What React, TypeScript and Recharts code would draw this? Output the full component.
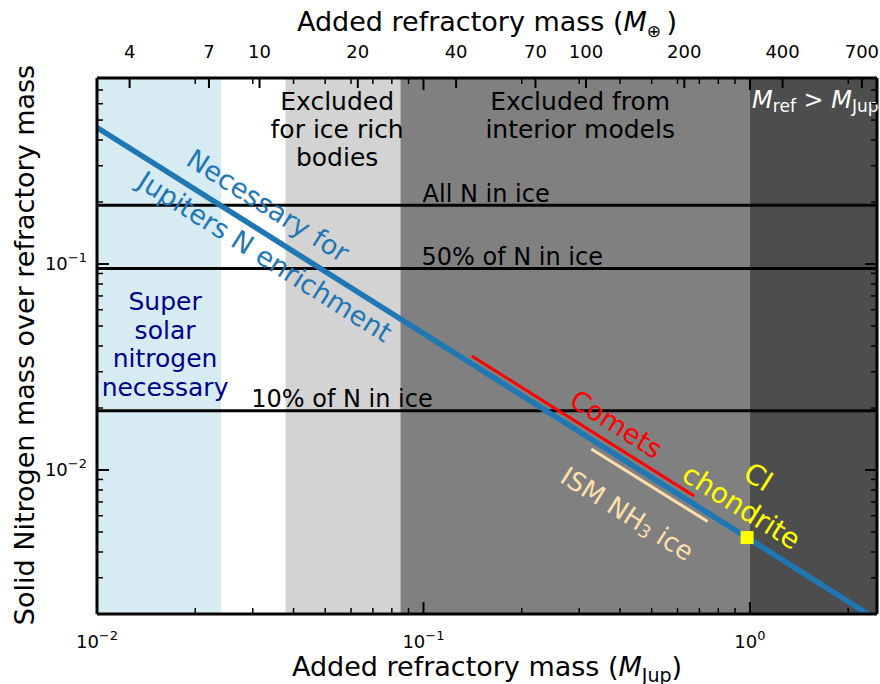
import React from 'react';
import {
  ComposedChart,
  XAxis,
  YAxis,
  Line,
  Scatter,
  ReferenceArea,
  ReferenceLine,
  ReferenceDot,
} from 'recharts';

const FONT = '"DejaVu Sans", sans-serif';
const EARTH_PER_JUP = 317.8;

// axes
const xDomain = [0.01, 2.45];
const yDomain = [0.002, 0.8];
const xMajor = [0.01, 0.1, 1];
const xMinor = [0.02, 0.03, 0.04, 0.05, 0.06, 0.07, 0.08, 0.09, 0.2, 0.3, 0.4, 0.5, 0.6, 0.7, 0.8, 0.9, 2];
const yMajor = [0.01, 0.1];
const yMinor = [
  0.002, 0.003, 0.004, 0.005, 0.006, 0.007, 0.008, 0.009,
  0.02, 0.03, 0.04, 0.05, 0.06, 0.07, 0.08, 0.09,
  0.2, 0.3, 0.4, 0.5, 0.6, 0.7, 0.8,
];
const earthTicks = [4, 7, 10, 20, 40, 70, 100, 200, 400, 700];

// shaded regions (M_Jup edges)
const regionEdges = [0.01, 0.024, 0.0378, 0.085, 1.0, 2.45];
const regionColors = ['#d6ebf2', '#ffffff', '#d3d3d3', '#808080', '#4d4d4d'];

// horizontal N-in-ice levels
const iceLevels = [0.193, 0.095, 0.0194];
const iceLabels = ['All N in ice', '50% of N in ice', '10% of N in ice'];

// series
const jupiterLine = [
  { x: 0.01, y: 0.46 },
  { x: 2.3, y: 0.002 },
];
const comets = [
  { x: 0.1406, y: 0.0358 },
  { x: 0.675, y: 0.00748 },
];
const ismIce = [
  { x: 0.3266, y: 0.01265 },
  { x: 0.742, y: 0.00562 },
];
const ciChondrite = [{ x: 0.98, y: 0.0047 }];

const ANGLE = 32.3;

const sup = (exp: number) => (exp < 0 ? '\u2212' + Math.abs(exp) : String(exp));

const BottomTick = (props: any) => {
  const { x, y, payload } = props;
  const v = payload.value;
  const major = xMajor.includes(v);
  return (
    <g>
      <line x1={x} x2={x} y1={y} y2={y - (major ? 12 : 6)} stroke="#000" strokeWidth={major ? 2 : 1.5} />
      {major && (
        <text x={x} y={y + 34} textAnchor="middle" fontSize={18} fontFamily={FONT} fill="#000">
          10
          <tspan dy={-8} fontSize={13}>{sup(Math.round(Math.log10(v)))}</tspan>
        </text>
      )}
    </g>
  );
};

const TopTick = (props: any) => {
  const { x, y, payload } = props;
  const v = payload.value;
  const earth = Math.round(v * EARTH_PER_JUP);
  const isEarth = earthTicks.includes(earth) && Math.abs(v * EARTH_PER_JUP - earth) < 1e-6;
  const major = xMajor.includes(v);
  const len = isEarth ? 10 : major ? 12 : 6;
  return (
    <g>
      <line x1={x} x2={x} y1={y} y2={y + len} stroke="#000" strokeWidth={isEarth || major ? 2 : 1.5} />
      {isEarth && (
        <text x={x} y={y - 20} textAnchor="middle" fontSize={18} fontFamily={FONT} fill="#000">
          {earth}
        </text>
      )}
    </g>
  );
};

const LeftTick = (props: any) => {
  const { x, y, payload } = props;
  const v = payload.value;
  const major = yMajor.includes(v);
  return (
    <g>
      <line x1={x} x2={x + (major ? 12 : 6)} y1={y} y2={y} stroke="#000" strokeWidth={major ? 2 : 1.5} />
      {major && (
        <text x={x - 10} y={y + 6} textAnchor="end" fontSize={18} fontFamily={FONT} fill="#000">
          10
          <tspan dy={-8} fontSize={13}>{sup(Math.round(Math.log10(v)))}</tspan>
        </text>
      )}
    </g>
  );
};

const RightTick = (props: any) => {
  const { x, y, payload } = props;
  const major = yMajor.includes(payload.value);
  return <line x1={x} x2={x - (major ? 12 : 6)} y1={y} y2={y} stroke="#000" strokeWidth={major ? 2 : 1.5} />;
};

const textShape =
  (lines: React.ReactNode[], opts: { size?: number; color?: string; angle?: number; lh?: number } = {}) =>
  (p: any) => {
    const { cx, cy } = p;
    const { size = 25, color = '#000', angle = 0, lh = 29 } = opts;
    const n = lines.length;
    return (
      <g transform={`rotate(${angle}, ${cx}, ${cy})`}>
        {lines.map((l, i) => (
          <text
            key={i}
            x={cx}
            y={cy + (i - (n - 1) / 2) * lh}
            textAnchor="middle"
            dominantBaseline="central"
            fontSize={size}
            fontFamily={FONT}
            fill={color}
          >
            {l}
          </text>
        ))}
      </g>
    );
  };

const ids = { xAxisId: 'bottom', yAxisId: 'left' } as const;

export default function App() {
  return (
    <div style={{ position: 'absolute', left: 0, top: 0, width: 880, height: 684, background: '#fff' }}>
      <ComposedChart width={880} height={684} margin={{ top: 0, right: 0, bottom: 0, left: 0 }}>
        <XAxis
          xAxisId="bottom"
          dataKey="x"
          type="number"
          scale="log"
          domain={xDomain}
          allowDataOverflow
          ticks={[...xMajor, ...xMinor]}
          interval={0}
          tickLine={false}
          tickSize={0}
          tickMargin={0}
          height={70}
          axisLine={{ stroke: '#000', strokeWidth: 3 }}
          tick={(p: any) => <BottomTick {...p} />}
          label={{
            content: (p: any) => {
              const vb = p.viewBox;
              return (
                <text x={vb.x + vb.width / 2} y={vb.y + 62} textAnchor="middle" fontSize={27} fontFamily={FONT} fill="#000">
                  Added refractory mass (<tspan fontStyle="italic">M</tspan>
                  <tspan dy={6} fontSize={19}>Jup</tspan>
                  <tspan dy={-6}>)</tspan>
                </text>
              );
            },
          }}
        />
        <XAxis
          xAxisId="top"
          orientation="top"
          dataKey="x"
          type="number"
          scale="log"
          domain={xDomain}
          allowDataOverflow
          ticks={[...xMajor, ...xMinor, ...earthTicks.map((m) => m / EARTH_PER_JUP)]}
          interval={0}
          tickLine={false}
          tickSize={0}
          tickMargin={0}
          height={78}
          axisLine={{ stroke: '#000', strokeWidth: 3 }}
          tick={(p: any) => <TopTick {...p} />}
          label={{
            content: (p: any) => {
              const vb = p.viewBox;
              return (
                <text x={vb.x + vb.width / 2} y={31} textAnchor="middle" fontSize={27} fontFamily={FONT} fill="#000">
                  Added refractory mass (<tspan fontStyle="italic">M</tspan>
                  <tspan dy={6} fontSize={17}>{'\u2295'}</tspan>
                  <tspan dy={-6}>{'\u2009)'}</tspan>
                </text>
              );
            },
          }}
        />
        <YAxis
          yAxisId="left"
          dataKey="y"
          type="number"
          scale="log"
          domain={yDomain}
          allowDataOverflow
          ticks={[...yMajor, ...yMinor]}
          interval={0}
          tickLine={false}
          tickSize={0}
          tickMargin={0}
          width={97}
          axisLine={{ stroke: '#000', strokeWidth: 3 }}
          tick={(p: any) => <LeftTick {...p} />}
          label={{
            content: (p: any) => {
              const vb = p.viewBox;
              const cx = 24;
              const cy = vb.y + vb.height / 2 - 1;
              return (
                <text
                  x={cx}
                  y={cy}
                  transform={`rotate(-90, ${cx}, ${cy})`}
                  textAnchor="middle"
                  dominantBaseline="central"
                  fontSize={27}
                  fontFamily={FONT}
                  fill="#000"
                >
                  Solid Nitrogen mass over refractory mass
                </text>
              );
            },
          }}
        />
        <YAxis
          yAxisId="right"
          orientation="right"
          dataKey="y"
          type="number"
          scale="log"
          domain={yDomain}
          allowDataOverflow
          ticks={[...yMajor, ...yMinor]}
          interval={0}
          tickLine={false}
          tickSize={0}
          tickMargin={0}
          width={3}
          axisLine={{ stroke: '#000', strokeWidth: 3 }}
          tick={(p: any) => <RightTick {...p} />}
        />

        {regionColors.map((c, i) => (
          <ReferenceArea
            key={i}
            {...ids}
            x1={regionEdges[i]}
            x2={regionEdges[i + 1]}
            y1={yDomain[0]}
            y2={yDomain[1]}
            fill={c}
            fillOpacity={1}
            stroke="none"
          />
        ))}

        {iceLevels.map((v) => (
          <ReferenceLine key={v} {...ids} y={v} stroke="#000" strokeWidth={3} />
        ))}

        <Line {...ids} data={jupiterLine} dataKey="y" stroke="#1f77b4" strokeWidth={5.5} dot={false} activeDot={false} isAnimationActive={false} />
        <Line {...ids} data={comets} dataKey="y" stroke="#ff0000" strokeWidth={3} dot={false} activeDot={false} isAnimationActive={false} />
        <Line {...ids} data={ismIce} dataKey="y" stroke="#ffdead" strokeWidth={3} dot={false} activeDot={false} isAnimationActive={false} />
        <Scatter
          {...ids}
          data={ciChondrite}
          dataKey="y"
          isAnimationActive={false}
          shape={(p: any) => <rect x={p.cx - 6.5} y={p.cy - 6.5} width={13} height={13} fill="#ffff00" />}
        />

        {/* region labels */}
        <ReferenceDot {...ids} x={0.0544} y={0.448} r={0} shape={textShape(['Excluded', 'for ice rich', 'bodies'], { lh: 28 })} />
        <ReferenceDot {...ids} x={0.302} y={0.524} r={0} shape={textShape(['Excluded from', 'interior models'], { lh: 28 })} />
        <ReferenceDot
          {...ids}
          x={1.586}
          y={0.626}
          r={0}
          shape={textShape(
            [
              <>
                <tspan fontStyle="italic">M</tspan>
                <tspan dy={6} fontSize={17}>ref</tspan>
                <tspan dy={-6}>{' > '}</tspan>
                <tspan fontStyle="italic">M</tspan>
                <tspan dy={6} fontSize={17}>Jup</tspan>
              </>,
            ],
            { color: '#ffffff', size: 24 },
          )}
        />
        <ReferenceDot
          {...ids}
          x={0.01616}
          y={0.0407}
          r={0}
          shape={textShape(['Super', 'solar', 'nitrogen', 'necessary'], { color: '#00008b', lh: 28.5 })}
        />

        {/* ice level labels */}
        <ReferenceDot {...ids} x={0.1556} y={0.2195} r={0} shape={textShape([iceLabels[0]], { size: 24 })} />
        <ReferenceDot {...ids} x={0.187} y={0.1087} r={0} shape={textShape([iceLabels[1]], { size: 24 })} />
        <ReferenceDot {...ids} x={0.0563} y={0.0221} r={0} shape={textShape([iceLabels[2]], { size: 24 })} />

        {/* series labels */}
        <ReferenceDot {...ids} x={0.0334} y={0.192} r={0} shape={textShape(['Necessary for'], { color: '#1f77b4', angle: ANGLE, size: 27 })} />
        <ReferenceDot {...ids} x={0.0327} y={0.1087} r={0} shape={textShape(['Jupiters N enrichment'], { color: '#1f77b4', angle: ANGLE, size: 27 })} />
        <ReferenceDot {...ids} x={0.3897} y={0.0167} r={0} shape={textShape(['Comets'], { color: '#ff0000', angle: ANGLE, size: 27 })} />
        <ReferenceDot {...ids} x={1.061} y={0.00924} r={0} shape={textShape(['CI'], { color: '#ffff00', angle: ANGLE, size: 28 })} />
        <ReferenceDot {...ids} x={0.941} y={0.00662} r={0} shape={textShape(['chondrite'], { color: '#ffff00', angle: ANGLE, size: 28 })} />
        <ReferenceDot
          {...ids}
          x={0.421}
          y={0.00612}
          r={0}
          shape={textShape(
            [
              <>
                ISM NH<tspan dy={5} fontSize={18}>3</tspan>
                <tspan dy={-5}> ice</tspan>
              </>,
            ],
            { color: '#ffdead', angle: ANGLE, size: 26 },
          )}
        />
      </ComposedChart>
    </div>
  );
}
